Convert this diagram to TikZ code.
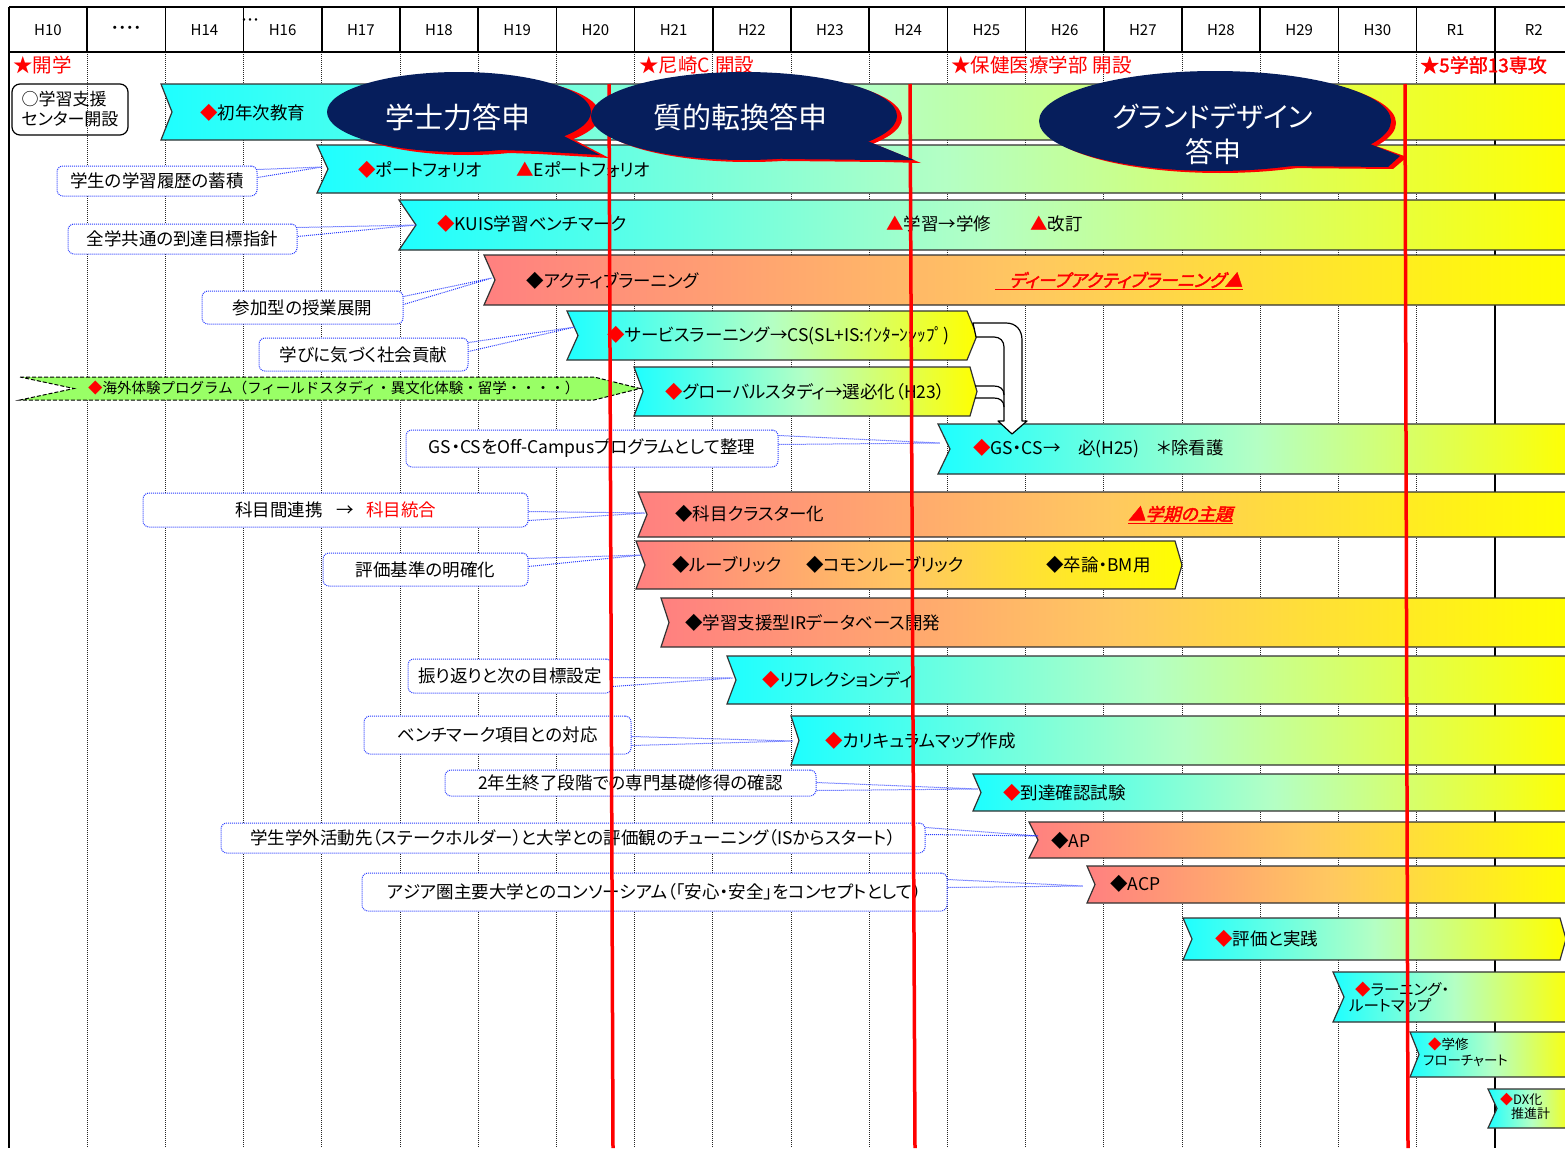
\documentclass[tikz,border=0pt]{standalone}
\usepackage{fontspec}
\setmainfont[RawFeature=+palt]{Noto Sans CJK JP}
\newfontfamily\emfont[FakeSlant=0.25,FakeBold=2.5,RawFeature=+palt]{Noto Sans CJK JP}
\newfontfamily\bfjp[FakeBold=1.5,RawFeature=+palt]{Noto Sans CJK JP}
\newfontfamily\nopalt{Noto Sans CJK JP}
\usetikzlibrary{calc}
\newcommand\fsz[1]{\fontsize{#1}{#1}\selectfont}
\newcommand\rdia{{\color{red}◆}}
\newcommand\rtri{{\color{red}▲}}
\newcommand\chev[6]{\path[#1] (#2,#3) -- (#4,#3) -- (#4,#5) -- (#2,#5) -- (#6,{(#3+#5)/2}) -- cycle;}
\newcommand\chevp[7]{\path[#1] (#2,#3) -- (#4,#3) -- (#7,{(#3+#5)/2}) -- (#4,#5) -- (#2,#5) -- (#6,{(#3+#5)/2}) -- cycle;}
\definecolor{navy}{RGB}{6,30,92}
\definecolor{cyanA}{RGB}{30,255,255}
\definecolor{greenA}{RGB}{180,255,196}
\definecolor{yelA}{RGB}{255,255,0}
\definecolor{salA}{RGB}{255,128,128}
\definecolor{orA}{RGB}{255,200,96}
\definecolor{lgreen}{RGB}{153,255,102}
\definecolor{cblue}{RGB}{40,60,255}
\definecolor{barline}{RGB}{50,50,50}
\begin{document}
\begin{tikzpicture}[x=1pt,y=-1pt,
  cybar/.style={draw=barline, line width=1.2pt, left color=cyanA, right color=yelA, middle color=greenA},
  sabar/.style={draw=barline, line width=1.2pt, left color=salA, right color=yelA, middle color=orA},
  gnbar/.style={draw=black, line width=1pt, dash pattern=on 4pt off 2pt, fill=lgreen},
  btxt/.style={anchor=west, inner sep=0pt, font=\fsz{17.5}},
  callout/.style={draw=cblue, line width=1pt, dash pattern=on 1pt off 1pt, rounded corners=6pt, fill=white, inner sep=0pt, font=\fsz{17.5}},
  ctail/.style={draw=cblue, line width=1pt, dash pattern=on 1pt off 1pt},
  hdr/.style={draw=black, line width=1.5pt},
  gridd/.style={draw=black!85, line width=1pt, dash pattern=on 1pt off 1pt},
  htxt/.style={font=\fsz{15}, inner sep=0pt},
  mtxt/.style={anchor=west, inner sep=0pt, text=red, font=\fsz{19.5}},
  redln/.style={draw=red, line width=3.5pt},
  bubtxt/.style={text=white, font=\fsz{29}, inner sep=0pt},
  harrow/.style={draw=black, line width=1.2pt, fill=white, line join=round}
]
\useasboundingbox (0,0) rectangle (1565,1148);
\fill[white] (0,0) rectangle (1565,1148);

% grid
\foreach \i in {1,...,19} { \draw[hdr] ({9+78.2*\i},7) -- ({9+78.2*\i},52); }
\foreach \i in {1,...,18} { \draw[gridd] ({9+78.2*\i},52) -- ({9+78.2*\i},1148); }
\draw[hdr] (1494.8,52) -- (1494.8,1148);
\draw[hdr] (9,7) -- (1570,7);
\draw[hdr] (9,52) -- (1570,52);
\draw[hdr] (9,7) -- (9,1148);

% header
\foreach \t [count=\i from 0] in {H10,・・・・,H14,H16,H17,H18,H19,H20,H21,H22,H23,H24,H25,H26,H27,H28,H29,H30,R1,R2}
  \node[htxt] (h\i) at ({48+78.2*\i},30) {\t};
\node[htxt, font=\fsz{12}] (hdots) at (250,22) {・・・};

% milestones
\node[mtxt] (m1) at (13,65) {★開学};
\node[mtxt] (m2) at (639,65) {★尼崎C\hspace{5pt}開設};
\node[mtxt] (m3) at (951,65) {★保健医療学部\hspace{5pt}開設};
\node[mtxt, font=\bfjp\fsz{19}] (m4) at (1420,65) {★5学部13専攻};

% support center box
\node[draw=black, line width=1.2pt, rounded corners=8pt, minimum width=116pt, minimum height=51pt, inner sep=0pt, align=left, font=\fontsize{17}{20}\selectfont] (sc) at (70,109.5) {○学習支援\\センター開設};

% bars
\chev{cybar}{161}{84}{1575}{140}{172}
\chev{cybar}{317}{145}{1575}{193}{328}
\chev{cybar}{399}{200}{1575}{250}{416}
\chev{sabar}{484}{255}{1575}{305}{495}
\chevp{cybar}{567}{311}{967}{360}{578}{977}
\chevp{cybar}{634}{367}{970}{416}{643}{977}
\chevp{gnbar}{20}{377}{594}{400}{74}{640}
\chev{cybar}{938}{424}{1575}{474}{950}
\chev{sabar}{638}{492}{1575}{537}{647}
\chevp{sabar}{636}{541}{1175}{589}{645}{1182}
\chev{sabar}{661}{598}{1575}{647}{669}
\chev{cybar}{727}{656}{1575}{704}{736}
\chev{cybar}{791}{716}{1575}{765}{799}
\chev{cybar}{973}{774}{1575}{811}{981}
\chev{sabar}{1029}{822}{1575}{858}{1038}
\chev{sabar}{1087}{866}{1575}{903}{1095}
\chevp{cybar}{1183}{918}{1560}{960}{1192}{1566}
\chev{cybar}{1333}{972}{1575}{1022}{1344}
\chev{cybar}{1410}{1032}{1575}{1077}{1419}
\chev{cybar}{1488}{1089}{1575}{1128}{1497}

% hollow merge arrow
\filldraw[harrow] (973,323) -- (1006,323) .. controls (1016,323) and (1022,330) .. (1022,340) -- (1022,421) -- (1027,421) -- (1012,434) -- (998,421) -- (1004,421) -- (1004,347) .. controls (1004,341) and (1000,337) .. (994,337) -- (976,337) -- cycle;
\draw[harrow, fill=none] (975,386) -- (994,386) .. controls (1000,386) and (1004,389) .. (1004,395);
\draw[harrow, fill=none] (975,398) -- (994,398) .. controls (1000,398) and (1004,401) .. (1004,407);

% bar texts
\node[btxt] (t1) at (200,113) {\rdia 初年次教育};
\node[btxt] (t2a) at (358,170) {\rdia ポートフォリオ};
\node[btxt] (t2b) at (516,170) {\rtri Eポートフォリオ};
\node[btxt] (t3a) at (437,224) {\rdia KUIS学習ベンチマーク};
\node[btxt] (t3b) at (886,224) {\rtri 学習→学修};
\node[btxt] (t3c) at (1030,224) {\rtri 改訂};
\node[btxt] (t4a) at (526,281) {◆アクティブラーニング};
\node[btxt, font=\emfont\fsz{17.5}, text=red] (t4b) at (1009,280) {ディープアクティブラーニング▲};
\draw[red, line width=1.2pt] ([xshift=-14pt,yshift=-1pt]t4b.south west) -- ([yshift=-1pt]t4b.south east);
\node[btxt] (t5) at (607,336) {\rdia サービスラーニング→CS(SL+IS:ｲﾝﾀｰﾝｼｯﾌﾟ)};
\node[btxt] (t6) at (665,392) {\rdia グローバルスタディ→選必化（H23）};
\node[btxt, font=\nopalt\fsz{14.5}] (t7) at (88,388) {\rdia 海外体験プログラム（フィールドスタディ・異文化体験・留学・・・・）};
\node[btxt] (t8) at (973,449) {\rdia GS・CS→　必(H25)　＊除看護};
\node[btxt] (t9a) at (675,514) {◆科目クラスター化};
\node[btxt, font=\emfont\fsz{17.5}, text=red] (t9b) at (1128,514) {▲学期の主題};
\draw[red, line width=1.2pt] ([yshift=-1pt]t9b.south west) -- ([yshift=-1pt]t9b.south east);
\node[btxt] (t10a) at (672,565) {◆ルーブリック};
\node[btxt] (t10b) at (806,565) {◆コモンルーブリック};
\node[btxt] (t10c) at (1046,565) {◆卒論・BM用};
\node[btxt] (t11) at (685,623) {◆学習支援型IRデータベース開発};
\node[btxt] (t12) at (762,680) {\rdia リフレクションディ};
\node[btxt] (t13) at (825,741) {\rdia カリキュラムマップ作成};
\node[btxt] (t14) at (1003,793) {\rdia 到達確認試験};
\node[btxt] (t15) at (1051,841) {◆AP};
\node[btxt] (t16) at (1110,884) {◆ACP};
\node[btxt] (t17) at (1215,939) {\rdia 評価と実践};
\node[btxt, font=\fsz{15.5}] (t18a) at (1355,990) {\rdia ラーニング・};
\node[btxt, font=\fsz{15.5}] (t18b) at (1349,1006) {ルートマップ};
\node[btxt, font=\fsz{13.5}] (t19a) at (1428,1044) {\rdia 学修};
\node[btxt, font=\fsz{13.5}] (t19b) at (1423,1061) {フローチャート};
\node[btxt, font=\fsz{13}] (t20a) at (1500,1100) {\rdia DX化};
\node[btxt, font=\fsz{13}] (t20b) at (1511,1114) {推進計};

% callout targets
\coordinate (g1) at (322,167);
\coordinate (g2) at (416,225);
\coordinate (g3) at (492,278);
\coordinate (g4) at (575,327);
\coordinate (g5) at (940,443);
\coordinate (g6) at (645,513);
\coordinate (g7) at (642,555);
\coordinate (g8) at (733,678);
\coordinate (g9) at (793,741);
\coordinate (g10) at (978,789);
\coordinate (g11) at (1038,836);
\coordinate (g12) at (1083,886);

% callouts
\node[callout, minimum width=200pt, minimum height=30pt] (c1) at (157,181) {学生の学習履歴の蓄積};
\node[callout, minimum width=229pt, minimum height=30pt] (c2) at (182.5,239) {全学共通の到達目標指針};
\node[callout, minimum width=201pt, minimum height=33pt] (c3) at (302.5,307.5) {参加型の授業展開};
\node[callout, minimum width=209pt, minimum height=33pt] (c4) at (363.5,354.5) {学びに気づく社会貢献};
\node[callout, minimum width=372pt, minimum height=37pt] (c5) at (592,448.5) {GS・CSをOff-Campusプログラムとして整理};
\node[callout, minimum width=385pt, minimum height=34pt] (c6) at (335.5,510) {科目間連携\hspace{14pt}→\hspace{12pt}{\color{red}科目統合}};
\node[callout, minimum width=205pt, minimum height=33pt] (c7) at (425.5,569.5) {評価基準の明確化};
\node[callout, minimum width=204pt, minimum height=34pt] (c8) at (510,676) {振り返りと次の目標設定};
\node[callout, minimum width=267pt, minimum height=38pt] (c9) at (497.5,735) {ベンチマーク項目との対応};
\node[callout, minimum width=371pt, minimum height=26pt] (c10) at (630.5,783) {2年生終了段階での専門基礎修得の確認};
\node[callout, minimum width=704pt, minimum height=30pt] (c11) at (573,838) {学生学外活動先（ステークホルダー）と大学との評価観のチューニング（ISからスタート）};
\node[callout, minimum width=585pt, minimum height=38pt] (c12) at (654.5,892) {アジア圏主要大学とのコンソーシアム（「安心・安全」をコンセプトとして）};

\draw[ctail] ([yshift=-4pt]c1.north east) -- (g1) -- ([yshift=-12pt]c1.north east);
\draw[ctail] ([yshift=-4pt]c2.north east) -- (g2) -- ([yshift=-13pt]c2.north east);
\draw[ctail] ([yshift=-6pt]c3.north east) -- (g3) -- ([yshift=-14pt]c3.north east);
\draw[ctail] ([yshift=-5pt]c4.north east) -- (g4) -- ([yshift=-14pt]c4.north east);
\draw[ctail] ([yshift=-6pt]c5.north east) -- (g5) -- ([yshift=-15pt]c5.north east);
\draw[ctail] ([yshift=-19pt]c6.north east) -- (g6) -- ([yshift=-28pt]c6.north east);
\draw[ctail] ([yshift=-6pt]c7.north east) -- (g7) -- ([yshift=-14pt]c7.north east);
\draw[ctail] ([yshift=-19pt]c8.north east) -- (g8) -- ([yshift=-28pt]c8.north east);
\draw[ctail] ([yshift=-21pt]c9.north east) -- (g9) -- ([yshift=-30pt]c9.north east);
\draw[ctail] ([yshift=-13pt]c10.north east) -- (g10) -- ([yshift=-21pt]c10.north east);
\draw[ctail] ([yshift=-5pt]c11.north east) -- (g11) -- ([yshift=-12pt]c11.north east);
\draw[ctail] ([yshift=-7pt]c12.north east) -- (g12) -- ([yshift=-15pt]c12.north east);

% red lines
\draw[redln] (609,84) -- (613,1148);
\draw[redln] (910,84) -- (915,1148);
\draw[redln] (1405,84) -- (1408,1148);

% bubbles
\begin{scope}[shift={(9,3)}]
  \fill[red] (459,112) ellipse [x radius=132pt, y radius=40pt];
  \fill[red] (560,134) -- (600,155) -- (530,151) -- (500,150) -- cycle;
\end{scope}
\fill[navy] (459,112) ellipse [x radius=132pt, y radius=40pt];
\fill[navy] (560,134) -- (600,155) -- (530,151) -- (500,150) -- cycle;
\node[bubtxt] (b1) at (458,117) {学士力答申};

\begin{scope}[shift={(5,2)}]
  \fill[red] (744,116) ellipse [x radius=153pt, y radius=44pt];
  \fill[red] (860,138) -- (916,161) -- (880,160) -- (780,159) -- cycle;
\end{scope}
\fill[navy] (744,116) ellipse [x radius=153pt, y radius=44pt];
\fill[navy] (860,138) -- (914,160) -- (880,160) -- (780,159) -- cycle;
\node[bubtxt] (b2) at (740,117) {質的転換答申};

\begin{scope}[shift={(5,2)}]
  \fill[red] (1215,121) ellipse [x radius=176pt, y radius=50pt];
  \fill[red] (1360,140) -- (1402,155) -- (1388,167) -- (1280,166) -- cycle;
\end{scope}
\fill[navy] (1215,121) ellipse [x radius=176pt, y radius=50pt];
\fill[navy] (1360,140) -- (1400,156) -- (1388,167) -- (1280,166) -- cycle;
\node[bubtxt, font=\fsz{28}] (b3a) at (1213,117) {グランドデザイン};
\node[bubtxt, font=\fsz{28}] (b3b) at (1213,152) {答申};
\end{tikzpicture}
\end{document}
